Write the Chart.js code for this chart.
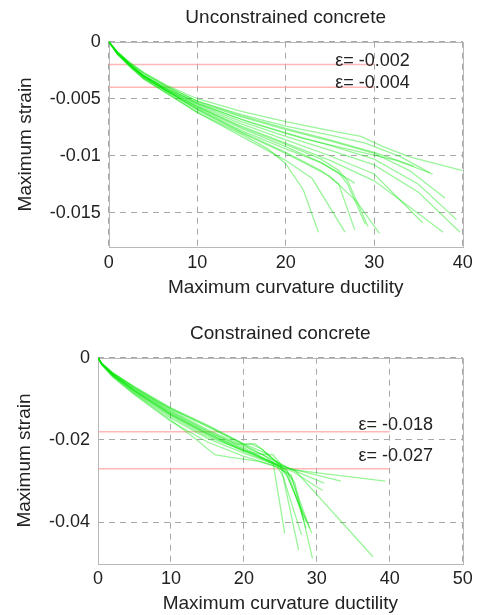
<!DOCTYPE html>
<html>
<head>
<meta charset="utf-8">
<title>Maximum strain vs maximum curvature ductility</title>
<script src="https://cdn.jsdelivr.net/npm/chart.js@4.4.1/dist/chart.umd.min.js"></script>
<style>
  body { margin: 0; background: #fff; }
  canvas { display: block; }
</style>
</head>
<body>
<canvas id="unconstrainedChart" width="478" height="300"></canvas>
<canvas id="constrainedChart" width="478" height="315"></canvas>
<script>
// Unconstrained concrete: each curve is a list of [ductility, strain] points
const unconstrainedCurves = [
  [[0,0],[1,-0.0009],[2.5,-0.0019],[4,-0.0027],[6.5,-0.0038],[10,-0.0050],[15,-0.0061],[20,-0.0070],[25,-0.0078],[28.5,-0.0083],[31,-0.0092],[34,-0.0101],[40,-0.0113]],
  [[0,0],[1,-0.0009],[2.5,-0.0020],[4,-0.0028],[6.5,-0.0039],[10,-0.0052],[15,-0.0064],[20,-0.0074],[25,-0.0082],[29,-0.0089],[33,-0.0101],[36.3,-0.0115]],
  [[0,0],[1,-0.0010],[2.5,-0.0021],[4,-0.0030],[6.5,-0.0041],[10,-0.0053],[15,-0.0066],[20,-0.0077],[25,-0.0087],[30,-0.0098],[34,-0.0113],[38,-0.0137]],
  [[0,0],[1,-0.0010],[2.5,-0.0021],[4,-0.0030],[6.5,-0.0041],[10,-0.0054],[15,-0.0068],[20,-0.0080],[25,-0.0091],[30,-0.0103],[35,-0.0125],[39.3,-0.0156]],
  [[0,0],[1,-0.0010],[2.5,-0.0020],[4,-0.0030],[6.5,-0.0042],[10,-0.0055],[15,-0.0070],[20,-0.0083],[25,-0.0095],[30,-0.0108],[35,-0.0132],[39.7,-0.0167]],
  [[0,0],[1,-0.0010],[2.5,-0.0021],[4,-0.0031],[6.5,-0.0042],[10,-0.0056],[15,-0.0072],[20,-0.0086],[25,-0.0100],[30,-0.0116],[35.5,-0.0159]],
  [[0,0],[1,-0.0011],[2.5,-0.0022],[4,-0.0032],[6.5,-0.0043],[10,-0.0057],[15,-0.0074],[20,-0.0089],[25,-0.0104],[30,-0.0122],[34,-0.0145],[37.8,-0.0167]],
  [[0,0],[1,-0.0009],[2.5,-0.0019],[4,-0.0028],[6.5,-0.0039],[10,-0.0052],[15,-0.0065],[20,-0.0076],[25,-0.0086],[30,-0.0097],[34.5,-0.0109]],
  [[0,0],[1,-0.0010],[2.5,-0.0021],[4,-0.0030],[6.5,-0.0040],[10,-0.0054],[16,-0.0071],[22,-0.0085],[28,-0.0096],[32.5,-0.0104],[36.6,-0.0116]],
  [[0,0],[1,-0.0011],[2.5,-0.0023],[4,-0.0033],[6.5,-0.0045],[10,-0.0062],[15,-0.0081],[18,-0.0094],[20,-0.0107],[22,-0.0130],[23.7,-0.0167]],
  [[0,0],[1,-0.0011],[2.5,-0.0022],[4,-0.0033],[6.5,-0.0045],[10,-0.0062],[15,-0.0083],[20,-0.0104],[23,-0.0120],[26.7,-0.0167]],
  [[0,0],[1,-0.0010],[2.5,-0.0021],[4,-0.0031],[6.5,-0.0043],[10,-0.0059],[15,-0.0079],[20,-0.0097],[24,-0.0113],[26,-0.0125],[27.8,-0.0165]],
  [[0,0],[1,-0.0010],[2.5,-0.0021],[4,-0.0031],[6.5,-0.0043],[10,-0.0059],[15,-0.0078],[20,-0.0094],[24,-0.0106],[26,-0.0115],[27,-0.0125],[29,-0.0160]],
  [[0,0],[1,-0.0011],[2.5,-0.0022],[4,-0.0032],[6.5,-0.0044],[10,-0.0060],[15,-0.0080],[20,-0.0098],[25,-0.0118],[28,-0.0140],[30.6,-0.0168]],
  [[0,0],[1,-0.0010],[2.5,-0.0021],[4,-0.0031],[6.5,-0.0043],[10,-0.0058],[15,-0.0076],[20,-0.0092],[24,-0.0106],[27.8,-0.0124]],
  [[0,0],[1,-0.0010],[2.5,-0.0021],[4,-0.0030],[6.5,-0.0042],[10,-0.0057],[15,-0.0075],[20,-0.0090],[24,-0.0103],[26,-0.0113],[27,-0.0122],[29.3,-0.0162]]
];
const unconstrainedLimits = [-0.002, -0.004];
const unconstrainedLimitEnd = 30;
const unconstrainedXTicks = [0, 10, 20, 30, 40];
const unconstrainedYTicks = [0, -0.005, -0.01, -0.015];
const unconstrainedNotes = [
  { text: 'ε= -0.002', x: 25.6, y: -0.0021 },
  { text: 'ε= -0.004', x: 25.6, y: -0.0041 }
];

// Constrained concrete
const constrainedCurves = [
  [[0,0],[0.5,-0.0013],[2,-0.0036],[5,-0.0072],[10,-0.0125],[15,-0.0168],[20,-0.0212],[23,-0.0240],[26,-0.0268],[33.3,-0.0300]],
  [[0,0],[0.5,-0.0015],[2,-0.0040],[5,-0.0078],[10,-0.0133],[15,-0.0180],[19,-0.0210],[21,-0.0210],[22.5,-0.0222],[24,-0.0248],[26.5,-0.0272],[39.4,-0.0300]],
  [[0,0],[0.5,-0.0016],[2,-0.0044],[5,-0.0086],[10,-0.0147],[15,-0.0196],[20,-0.0232],[24,-0.0258],[26.8,-0.0278],[30.8,-0.0323]],
  [[0,0],[0.5,-0.0015],[2,-0.0042],[5,-0.0082],[10,-0.0140],[15,-0.0188],[20,-0.0226],[24,-0.0256],[27,-0.0274],[37.7,-0.0484]],
  [[0,0],[0.5,-0.0014],[2,-0.0038],[5,-0.0074],[10,-0.0128],[15,-0.0175],[20,-0.0215],[23,-0.0240],[24,-0.0255],[25.6,-0.0427]],
  [[0,0],[0.5,-0.0016],[2,-0.0043],[5,-0.0084],[10,-0.0143],[15,-0.0192],[20,-0.0226],[22,-0.0234],[24,-0.0236],[25,-0.0258],[27.5,-0.0468]],
  [[0,0],[0.5,-0.0015],[2,-0.0041],[5,-0.0079],[10,-0.0137],[15,-0.0184],[20,-0.0222],[24.5,-0.0262],[25.4,-0.0290],[27.9,-0.0431]],
  [[0,0],[0.5,-0.0015],[2,-0.0042],[5,-0.0081],[10,-0.0139],[15,-0.0186],[20,-0.0228],[25,-0.0265],[26.5,-0.0292],[29.3,-0.0427]],
  [[0,0],[0.5,-0.0014],[2,-0.0039],[5,-0.0076],[10,-0.0131],[15,-0.0178],[20,-0.0219],[25.8,-0.0272],[27,-0.0305],[29.4,-0.0488]],
  [[0,0],[0.5,-0.0016],[2,-0.0045],[5,-0.0088],[10,-0.0152],[13,-0.0192],[16,-0.0236],[18,-0.0242],[22,-0.0252],[25,-0.0268],[26,-0.0290],[28.6,-0.0400]],
  [[0,0],[0.5,-0.0015],[2,-0.0041],[5,-0.0080],[10,-0.0136],[15,-0.0183],[20,-0.0224],[24.5,-0.0258],[25.8,-0.0282],[29,-0.0415]],
  [[0,0],[0.5,-0.0014],[2,-0.0038],[5,-0.0073],[8,-0.0105],[10,-0.0124],[15,-0.0166],[20,-0.0210],[21.5,-0.0209],[24,-0.0245],[26,-0.0278],[28.2,-0.0395]],
  [[0,0],[0.5,-0.0017],[2,-0.0047],[5,-0.0090],[10,-0.0155],[15,-0.0205],[20,-0.0240],[24,-0.0262],[26.5,-0.0285],[28.5,-0.0415]],
  [[0,0],[0.5,-0.0014],[2,-0.0037],[5,-0.0070],[10,-0.0122],[15,-0.0164],[20,-0.0210],[23,-0.0232],[25,-0.0262],[26.2,-0.0270],[31,-0.0305]]
];
const constrainedLimits = [-0.018, -0.027];
const constrainedLimitEnd = 40;
const constrainedXTicks = [0, 10, 20, 30, 40, 50];
const constrainedYTicks = [0, -0.02, -0.04];
const constrainedNotes = [
  { text: 'ε= -0.018', x: 35.7, y: -0.0176 },
  { text: 'ε= -0.027', x: 35.7, y: -0.0250 }
];

const FONT = '"Liberation Sans", Arial, sans-serif';
const TEXT_COLOR = '#222';

// draws the box round the plot and the epsilon notes
const frameAndNotes = {
  id: 'frameAndNotes',
  beforeDatasetsDraw(chart) {
    const { ctx, chartArea: a } = chart;
    ctx.save();
    ctx.strokeStyle = '#b8b8b8';
    ctx.lineWidth = 1;
    ctx.strokeRect(Math.round(a.left) + 0.5, Math.round(a.top) + 0.5,
      Math.round(a.right - a.left), Math.round(a.bottom - a.top));
    ctx.restore();
  },
  afterDatasetsDraw(chart, args, opts) {
    const { ctx, scales } = chart;
    ctx.save();
    ctx.font = '18px ' + FONT;
    ctx.fillStyle = TEXT_COLOR;
    ctx.textBaseline = 'alphabetic';
    opts.notes.forEach(n => {
      ctx.fillText(n.text, scales.x.getPixelForValue(n.x), scales.y.getPixelForValue(n.y));
    });
    ctx.restore();
  }
};

function buildChart(canvasId, cfg) {
  const curveSets = cfg.curves.map(curve => ({
    data: curve.map(p => ({ x: p[0], y: p[1] })),
    borderColor: 'rgba(0, 230, 0, 0.4)',
    borderWidth: 1.3,
    showLine: true,
    pointRadius: 0,
    tension: 0
  }));
  const limitSets = cfg.limits.map(v => ({
    data: [{ x: 0, y: v }, { x: cfg.limitEnd, y: v }],
    borderColor: 'rgba(255, 160, 160, 0.75)',
    borderWidth: 1.5,
    showLine: true,
    pointRadius: 0
  }));

  return new Chart(document.getElementById(canvasId), {
    type: 'scatter',
    data: { datasets: curveSets.concat(limitSets) },
    plugins: [frameAndNotes],
    options: {
      responsive: false,
      animation: false,
      layout: { padding: { left: 0, right: 15.3, top: 0, bottom: 0 } },
      plugins: {
        legend: { display: false },
        tooltip: { enabled: false },
        title: {
          display: true,
          text: cfg.title,
          fullSize: false,
          color: TEXT_COLOR,
          font: { family: FONT, size: 19, weight: 'normal' },
          padding: { top: cfg.titleTop, bottom: cfg.titleBottom }
        },
        frameAndNotes: { notes: cfg.notes }
      },
      scales: {
        x: {
          type: 'linear',
          min: cfg.xTicks[0],
          max: cfg.xTicks[cfg.xTicks.length - 1],
          afterBuildTicks: s => { s.ticks = cfg.xTicks.map(v => ({ value: v })); },
          afterFit: s => { s.height = cfg.xAxisHeight; },
          grid: { color: '#a8a8a8', lineWidth: 1, drawTicks: false },
          border: { display: false, dash: [6, 5] },
          ticks: { color: TEXT_COLOR, font: { family: FONT, size: 18 }, padding: 5, maxRotation: 0,
                   callback: v => String(v) },
          title: {
            display: true,
            text: 'Maximum curvature ductility',
            color: TEXT_COLOR,
            font: { family: FONT, size: 19 },
            padding: { top: 0, bottom: cfg.xTitleBottom }
          }
        },
        y: {
          type: 'linear',
          min: cfg.yMin,
          max: 0,
          afterBuildTicks: s => { s.ticks = cfg.yTicks.map(v => ({ value: v })); },
          afterFit: s => { s.width = cfg.yAxisWidth; },
          grid: { color: '#a8a8a8', lineWidth: 1, drawTicks: false },
          border: { display: false, dash: [6, 5] },
          ticks: { color: TEXT_COLOR, font: { family: FONT, size: 18 }, padding: 8,
                   callback: v => String(v) },
          title: {
            display: true,
            text: 'Maximum strain',
            color: TEXT_COLOR,
            font: { family: FONT, size: 19 },
            padding: { top: cfg.yTitleTop, bottom: 0 }
          }
        }
      }
    }
  });
}

buildChart('unconstrainedChart', {
  title: 'Unconstrained concrete',
  curves: unconstrainedCurves,
  limits: unconstrainedLimits,
  limitEnd: unconstrainedLimitEnd,
  notes: unconstrainedNotes,
  xTicks: unconstrainedXTicks,
  yTicks: unconstrainedYTicks,
  yMin: -0.018,
  titleTop: 6.6,
  titleBottom: 12.3,
  xAxisHeight: 53,
  yAxisWidth: 108.7,
  xTitleBottom: 0.6,
  yTitleTop: 14.6
});

buildChart('constrainedChart', {
  title: 'Constrained concrete',
  curves: constrainedCurves,
  limits: constrainedLimits,
  limitEnd: constrainedLimitEnd,
  notes: constrainedNotes,
  xTicks: constrainedXTicks,
  yTicks: constrainedYTicks,
  yMin: -0.05,
  titleTop: 22.6,
  titleBottom: 12.3,
  xAxisHeight: 51.7,
  yAxisWidth: 98,
  xTitleBottom: 0,
  yTitleTop: 13.6
});
</script>
</body>
</html>
